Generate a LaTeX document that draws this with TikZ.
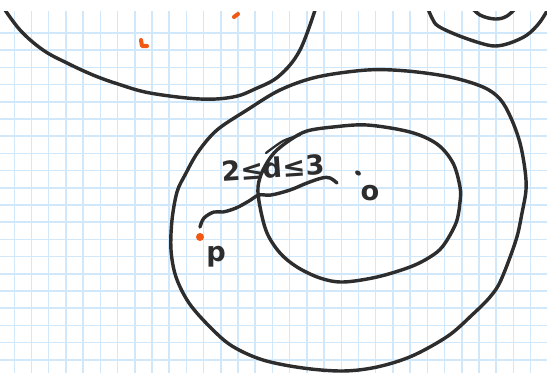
\documentclass[tikz,border=0pt]{standalone}
\usepackage{fontspec}
\setmainfont{DejaVu Sans}
\usepackage{tikz}
\definecolor{gridblue}{RGB}{208,232,250}
\definecolor{inkgray}{RGB}{45,45,45}
\definecolor{dotorange}{RGB}{240,88,20}

\begin{document}
\begin{tikzpicture}[x=0.02cm,y=-0.02cm,
  ink/.style={draw=inkgray,line width=1.95pt,line cap=round,line join=round},
  hand/.style={font=\fontsize{15.5}{18}\selectfont\bfseries,text=inkgray,inner sep=0pt}]
\useasboundingbox (0,0) rectangle (547,373);
\fill[white] (0,0) rectangle (547,373);

% ============ squared paper ============
\begin{scope}
\clip (0,11) rectangle (547,373);
\foreach \k in {0,...,30}{
  \draw[gridblue,line width=0.85pt] ({14.3+17.21*\k},11) -- ({14.3+17.21*\k},373);
}
\foreach \k in {0,...,19}{
  \draw[gridblue,line width=0.85pt] (0,{33+17.2*\k}) -- (547,{33+17.2*\k});
}
\end{scope}

% ============ blobs ============
\begin{scope}
\clip (0,11) rectangle (547,373);
% top left
\draw[ink] plot[smooth,tension=0.6] coordinates {(1,4) (20,30) (43,50) (67,63) (93,75) (118,84) (150,93) (200,99) (233,97) (255,89) (279,76) (300,50) (317,4)};
% top right
\draw[ink] plot[smooth,tension=0.55] coordinates {(426,4) (432,18) (438,26) (457,35) (480,43) (495,46) (510,43) (527,35) (540,22) (551,4)};
\draw[ink] plot[smooth,tension=0.55] coordinates {(468,4) (480,15) (495,19) (507,16) (520,4)};
% outer region
\draw[ink] plot[smooth cycle,tension=0.55] coordinates {(367,70) (407,71) (450,77) (483,87) (500,99) (511,118) (520,143) (525,170) (526,190) (522,213) (516,240) (501,280) (490,297) (472,315) (448,336) (412,356) (377,367) (343,371) (303,368) (263,360) (232,346) (210,327) (189,303) (176,277) (171,250) (172,220) (177,192) (185,175) (198,152) (217,130) (247,110) (280,90) (317,77)};
% inner region
\draw[ink] plot[smooth cycle,tension=0.55] coordinates {(367,125) (410,132) (437,144) (453,163) (460,187) (460,202) (456,223) (443,246) (430,257) (410,267) (377,277) (343,282) (320,278) (297,267) (280,253) (267,233) (260,207) (258,187) (263,170) (274,153) (290,140) (307,131) (333,127)};
\end{scope}

% ============ distance band ============
\draw[ink,line width=1.3pt] plot[smooth] coordinates {(266,153) (283,141) (300,135)};
\draw[ink] plot[smooth,tension=0.6] coordinates {(200,227) (204,218) (214,212) (223,212) (236,208) (249,201) (259,195) (271,195) (290,190) (307,183) (322,178) (330,178) (337,183)};
\node[hand,rotate=4] (dist) at (273,168) {2≤d≤3};

% ============ points ============
\fill[inkgray,rotate around={-35:(358,173)}] (358,173) ellipse (3.2 and 2.3);
\node[hand] (o) at (370,193) {o};
\fill[dotorange] (200,237) circle (4);
\node[hand] (p) at (216,257) {p};

% ============ stray marks ============
\draw[dotorange,line width=2.3pt,line cap=round] (234,17) -- (238,14);
\draw[dotorange,line width=2.3pt,line cap=round,line join=round] (141,40) -- (142,46) -- (147,46);

\end{tikzpicture}
\end{document}
